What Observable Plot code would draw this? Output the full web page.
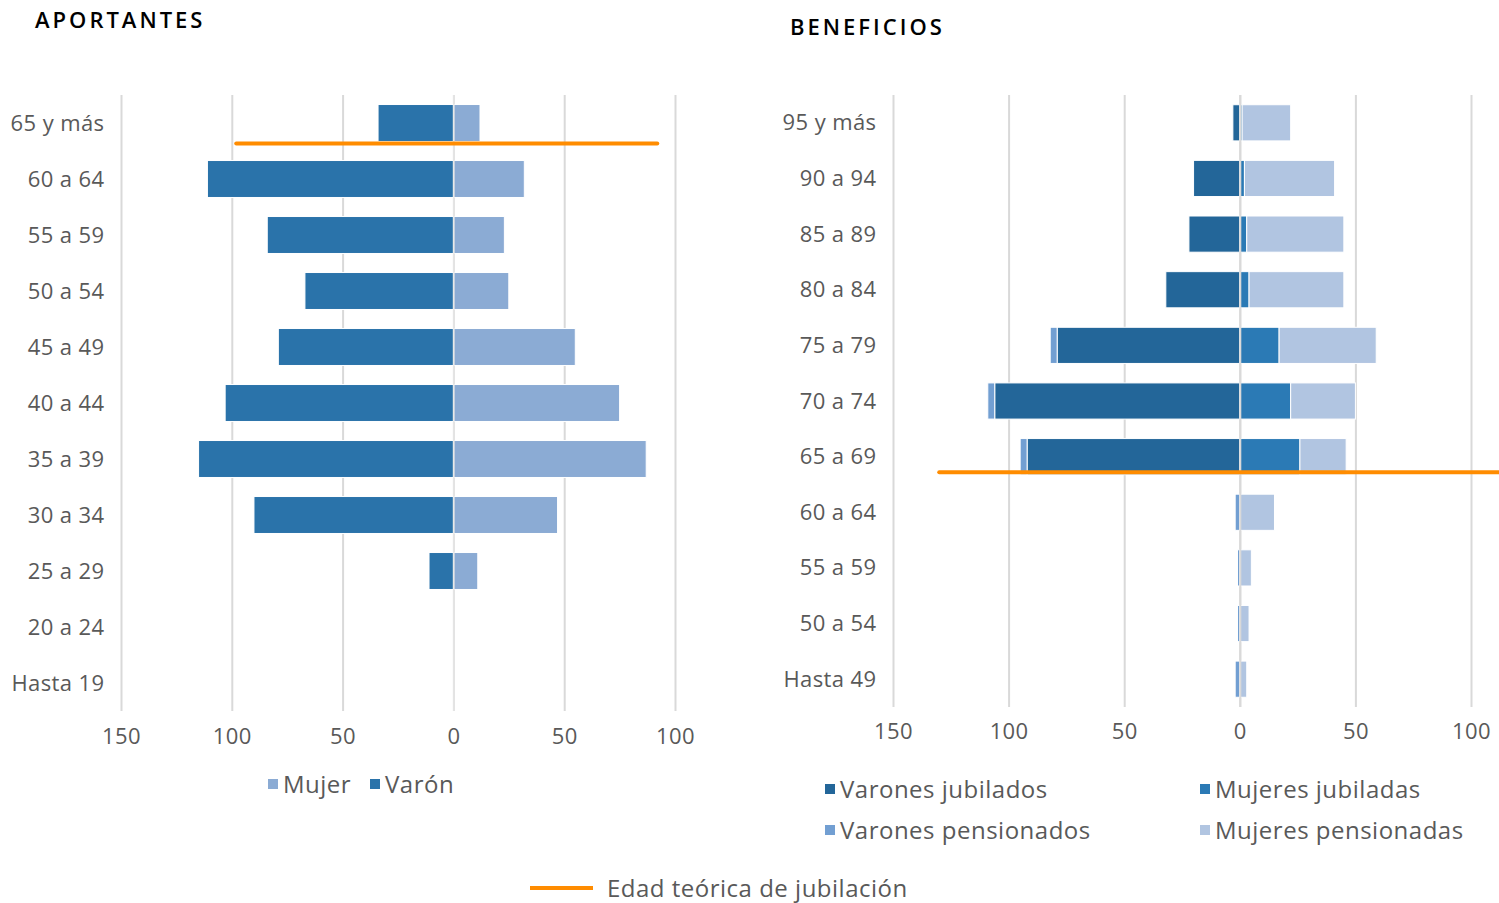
<!DOCTYPE html>
<html>
<head>
<meta charset="utf-8">
<script src="https://cdn.jsdelivr.net/npm/d3@7"></script>
<script src="https://cdn.jsdelivr.net/npm/@observablehq/plot@0.6"></script>
<style>
  body { margin: 0; background: #fff; font-family: "Open Sans", sans-serif; color: #595959; }
  #page { position: relative; width: 1499px; height: 903px; overflow: hidden; }
  .title { position: absolute; font-weight: 600; font-size: 22px; color: #000; letter-spacing: 3px; }
  .panel { position: absolute; }
  .leg { position: absolute; font-size: 24px; line-height: 26px; letter-spacing: 0.5px; color: #595959; display: flex; align-items: center; white-space: nowrap; width: max-content; }
  .sw { width: 10px; height: 10px; display: inline-block; margin-right: 5px; }
</style>
</head>
<body>
<div id="page">
  <div class="title" style="left:35px; top:4px;">APORTANTES</div>
  <div class="title" style="left:790px; top:11px;">BENEFICIOS</div>
  <div id="left" class="panel" style="left:0; top:60px;"></div>
  <div id="right" class="panel" style="left:760px; top:60px;"></div>

  <div class="leg" style="left:268px; top:771px;"><span class="sw" style="background:#8BABD4"></span>Mujer</div>
  <div class="leg" style="left:370px; top:771px;"><span class="sw" style="background:#2A73AA"></span>Varón</div>

  <div class="leg" style="left:825px; top:776px;"><span class="sw" style="background:#236699"></span>Varones jubilados</div>
  <div class="leg" style="left:1200px; top:776px;"><span class="sw" style="background:#2B7AB5"></span>Mujeres jubiladas</div>
  <div class="leg" style="left:825px; top:817px;"><span class="sw" style="background:#729FD2"></span>Varones pensionados</div>
  <div class="leg" style="left:1200px; top:817px;"><span class="sw" style="background:#B1C5E1"></span>Mujeres pensionadas</div>

  <div class="leg" style="left:530px; top:875px;"><span style="display:inline-block;width:63px;height:4px;background:#FF8C00;margin-right:14px;"></span><span>Edad teórica de jubilación</span></div>
</div>
<script>
// ---- APORTANTES ----
const edadesAport = ["65 y más","60 a 64","55 a 59","50 a 54","45 a 49","40 a 44","35 a 39","30 a 34","25 a 29","20 a 24","Hasta 19"];
const varon = [34, 111, 84, 67, 79, 103, 115, 90, 11, 0, 0];
const mujer = [12, 32, 23, 25, 55, 75, 87, 47, 11, 0, 0];
const seriesAport = ["Mujer", "Varón"];
const coloresAport = ["#8BABD4", "#2A73AA"];
const jubAport = [{edad: "65 y más", desde: -98, hasta: 92}];

// ---- BENEFICIOS ----
const edadesBenef = ["95 y más","90 a 94","85 a 89","80 a 84","75 a 79","70 a 74","65 a 69","60 a 64","55 a 59","50 a 54","Hasta 49"];
const varonesJubilados   = [3, 20, 22, 32, 79, 106, 92, 0, 0, 0, 0];
const varonesPensionados = [0, 0, 0, 0, 3, 3, 3, 2, 1, 1, 2];
const mujeresJubiladas   = [1, 2, 3, 4, 17, 22, 26, 0, 0, 0, 0];
const mujeresPensionadas = [21, 39, 42, 41, 42, 28, 20, 15, 5, 4, 3];
const seriesBenef = ["Varones jubilados", "Varones pensionados", "Mujeres jubiladas", "Mujeres pensionadas"];
const coloresBenef = ["#236699", "#729FD2", "#2B7AB5", "#B1C5E1"];
const jubBenef = [{edad: "65 a 69", desde: -130, hasta: 112}];

const xTicks = [-150, -100, -50, 0, 50, 100];
const orange = "#FF8C00";
const grid = "#d9d9d9";

const style = {fontFamily: "Open Sans, sans-serif", fontSize: "22px", letterSpacing: "0.4px", color: "#595959", background: "transparent", overflow: "visible"};

// long tables
const dataAport = [];
edadesAport.forEach((e, i) => {
  dataAport.push({edad: e, serie: "Varón", v: -varon[i]});
  dataAport.push({edad: e, serie: "Mujer", v: mujer[i]});
});
const dataBenef = [];
edadesBenef.forEach((e, i) => {
  dataBenef.push({edad: e, serie: "Varones jubilados", v: -varonesJubilados[i]});
  dataBenef.push({edad: e, serie: "Varones pensionados", v: -varonesPensionados[i]});
  dataBenef.push({edad: e, serie: "Mujeres jubiladas", v: mujeresJubiladas[i]});
  dataBenef.push({edad: e, serie: "Mujeres pensionadas", v: mujeresPensionadas[i]});
});

const left = Plot.plot({
  width: 700, height: 700,
  marginLeft: 121, marginRight: 25, marginTop: 35, marginBottom: 49,
  style,
  x: {domain: [-150, 100], ticks: xTicks, tickFormat: d => Math.abs(d), tickSize: 0, tickPadding: 17, label: null},
  y: {domain: edadesAport, paddingInner: 0.34, paddingOuter: 0.17, round: false, tickSize: 0, tickPadding: 17, label: null},
  color: {domain: seriesAport, range: coloresAport},
  marks: [
    Plot.ruleX(xTicks, {stroke: grid, strokeWidth: 2}),
    Plot.barX(dataAport.filter(d => d.v !== 0), {y: "edad", x: "v", fill: "serie", stroke: "white", strokeWidth: 1}),
    Plot.ruleX([0], {stroke: "#e6e6e6", strokeWidth: 1.5}),
    Plot.ruleY(jubAport, {y: "edad", x1: "desde", x2: "hasta", stroke: orange, strokeWidth: 4, strokeLinecap: "round", dy: 20})
  ]
});
document.getElementById("left").appendChild(left);

const right = Plot.plot({
  width: 739, height: 700,
  marginLeft: 133, marginRight: 28, marginTop: 35, marginBottom: 53,
  style,
  x: {domain: [-150, 100], ticks: xTicks, tickFormat: d => Math.abs(d), tickSize: 0, tickPadding: 16, label: null},
  y: {domain: edadesBenef, paddingInner: 0.35, paddingOuter: 0.175, round: false, tickSize: 0, tickPadding: 17, label: null},
  color: {domain: seriesBenef, range: coloresBenef},
  marks: [
    Plot.ruleX(xTicks, {stroke: grid, strokeWidth: 2}),
    Plot.barX(dataBenef.filter(d => d.v !== 0), {y: "edad", x: "v", fill: "serie", stroke: "white", strokeWidth: 1}),
    Plot.ruleX([0], {stroke: grid, strokeWidth: 2}),
    Plot.ruleY(jubBenef, {y: "edad", x1: "desde", x2: "hasta", stroke: orange, strokeWidth: 4, strokeLinecap: "round", dy: 15})
  ]
});
document.getElementById("right").appendChild(right);
</script>
</body>
</html>
